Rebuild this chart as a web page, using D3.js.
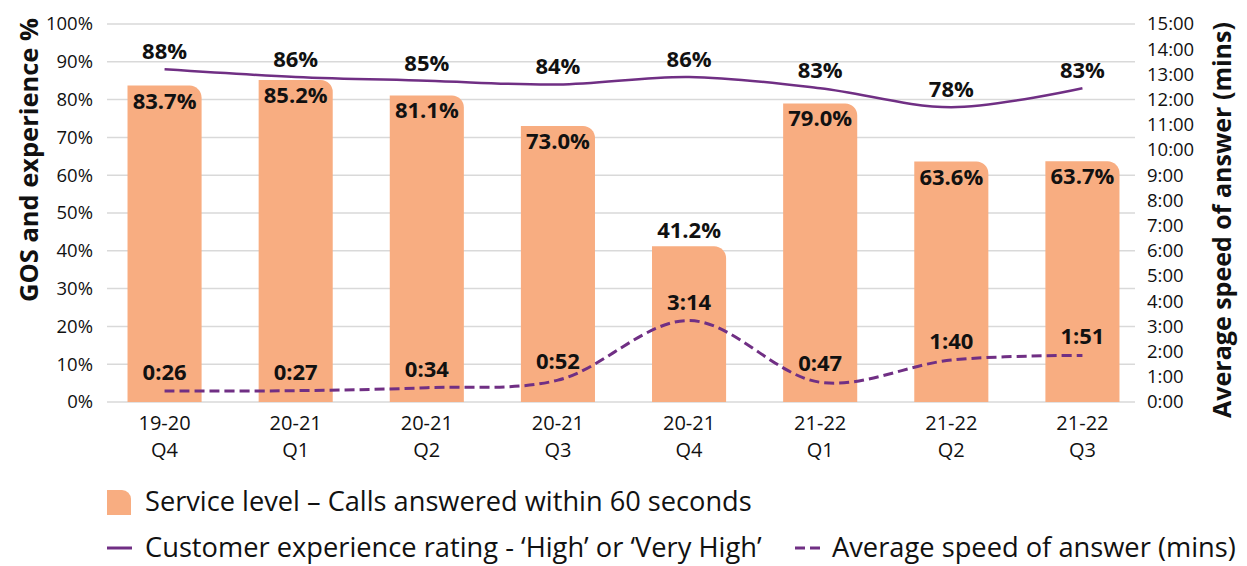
<!DOCTYPE html>
<html>
<head>
<meta charset="utf-8">
<script src="https://cdn.jsdelivr.net/npm/d3@7"></script>
<style>
  html, body { margin: 0; padding: 0; background: #ffffff; }
  svg { display: block; font-family: "Open Sans", Lato, sans-serif; }
</style>
</head>
<body>
<svg id="chart" width="1247" height="566"></svg>
<script>
const categories = ["19-20 Q4", "20-21 Q1", "20-21 Q2", "20-21 Q3", "20-21 Q4", "21-22 Q1", "21-22 Q2", "21-22 Q3"];
const serviceLevel = [83.7, 85.2, 81.1, 73.0, 41.2, 79.0, 63.6, 63.7];
const experience = [88, 86, 85, 84, 86, 83, 78, 83];
const speedOfAnswer = ["0:26", "0:27", "0:34", "0:52", "3:14", "0:47", "1:40", "1:51"];
const leftTicks = [0, 10, 20, 30, 40, 50, 60, 70, 80, 90, 100];
const rightTicks = [0, 1, 2, 3, 4, 5, 6, 7, 8, 9, 10, 11, 12, 13, 14, 15];
const legendLabels = [
  "Service level – Calls answered within 60 seconds",
  "Customer experience rating - ‘High’ or ‘Very High’",
  "Average speed of answer (mins)"
];

const BAR = "#F8AD81", PURPLE = "#702F84", GRID = "#D9D9D9", TEXT = "#111111";
const FONT = "'Open Sans', Lato, sans-serif";

const toMin = s => { const [m, sec] = s.split(":").map(Number); return m + sec / 60; };
const speedMin = speedOfAnswer.map(toMin);

function fit(sel, target) {
  const w = sel.node().getComputedTextLength();
  const fs = parseFloat(sel.attr("font-size"));
  if (w > 0) sel.attr("font-size", fs * target / w);
  return sel;
}

const svg = d3.select("#chart");
const x = d3.scaleBand().domain(categories).range([99, 1148]).paddingInner(0.435).paddingOuter(0.2175);
const yL = d3.scaleLinear().domain([0, 100]).range([402, 24]);
const yR = d3.scaleLinear().domain([0, 15]).range([402, 24]);
const cx = c => x(c) + x.bandwidth() / 2;

// gridlines
svg.append("g").selectAll("line").data(leftTicks).join("line")
  .attr("x1", 107).attr("x2", 1135)
  .attr("y1", d => yL(d)).attr("y2", d => yL(d))
  .attr("stroke", GRID).attr("stroke-width", 1.5);

// left axis
const axL = svg.append("g").attr("transform", "translate(107,0)")
  .call(d3.axisLeft(yL).tickValues(leftTicks).tickFormat(d => d + "%").tickSize(0).tickPadding(14));
axL.select(".domain").remove();
axL.selectAll("text").attr("font-size", 18.5).attr("fill", TEXT).attr("font-family", FONT);

// right axis
const axR = svg.append("g").attr("transform", "translate(1135,0)")
  .call(d3.axisRight(yR).tickValues(rightTicks).tickFormat(d => d + ":00").tickSize(0).tickPadding(12));
axR.select(".domain").remove();
axR.selectAll("text").attr("font-size", 18.5).attr("fill", TEXT).attr("font-family", FONT);

// axis titles
fit(svg.append("text").attr("transform", "translate(29,160) rotate(-90)").attr("dy", "0.35em")
  .attr("text-anchor", "middle").attr("font-size", 22).attr("font-weight", 700).attr("fill", TEXT)
  .text("GOS and experience %"), 284);
fit(svg.append("text").attr("transform", "translate(1222,220) rotate(-90)").attr("dy", "0.35em")
  .attr("text-anchor", "middle").attr("font-size", 22).attr("font-weight", 700).attr("fill", TEXT)
  .text("Average speed of answer (mins)"), 396);

// bars with rounded top-right corner
function barPath(x0, y0, w, h, r) {
  r = Math.min(r, h, w);
  return `M${x0},${y0 + h}V${y0}H${x0 + w - r}A${r},${r} 0 0 1 ${x0 + w},${y0 + r}V${y0 + h}Z`;
}
svg.append("g").selectAll("path").data(categories).join("path")
  .attr("d", (c, i) => barPath(x(c), yL(serviceLevel[i]), x.bandwidth(), yL(0) - yL(serviceLevel[i]), 12))
  .attr("fill", BAR);

// x labels (two separate lines)
svg.append("g").selectAll("text").data(categories).join("text")
  .attr("x", d => cx(d)).attr("y", 430)
  .attr("text-anchor", "middle").attr("font-size", 20).attr("fill", TEXT)
  .text(d => d.split(" ")[0]);
svg.append("g").selectAll("text").data(categories).join("text")
  .attr("x", d => cx(d)).attr("y", 457)
  .attr("text-anchor", "middle").attr("font-size", 20).attr("fill", TEXT)
  .text(d => d.split(" ")[1]);

// experience line
const smooth = d3.curveCatmullRom.alpha(0.5);
svg.append("path")
  .attr("d", d3.line().x((d, i) => cx(categories[i])).y(d => yL(d)).curve(smooth)(experience))
  .attr("fill", "none").attr("stroke", PURPLE).attr("stroke-width", 2.5);

// speed line
svg.append("path")
  .attr("d", d3.line().x((d, i) => cx(categories[i])).y(d => yR(d)).curve(smooth)(speedMin))
  .attr("fill", "none").attr("stroke", PURPLE).attr("stroke-width", 3).attr("stroke-dasharray", "10,5");

// bar labels
svg.append("g").selectAll("text").data(serviceLevel).join("text")
  .attr("x", (d, i) => cx(categories[i]))
  .attr("y", d => d < 50 ? yL(d) - 8 : yL(d) + 23)
  .attr("text-anchor", "middle").attr("font-size", 22).attr("font-weight", 700).attr("fill", TEXT)
  .text(d => d.toFixed(1) + "%");

// experience labels
svg.append("g").selectAll("text").data(experience).join("text")
  .attr("x", (d, i) => cx(categories[i]))
  .attr("y", d => yL(d) - 10)
  .attr("text-anchor", "middle").attr("font-size", 22).attr("font-weight", 700).attr("fill", TEXT)
  .text(d => d + "%");

// speed labels
svg.append("g").selectAll("text").data(speedOfAnswer).join("text")
  .attr("x", (d, i) => cx(categories[i]))
  .attr("y", (d, i) => yR(speedMin[i]) - 11)
  .attr("text-anchor", "middle").attr("font-size", 22).attr("font-weight", 700).attr("fill", TEXT)
  .text(d => d);

// legend
const lg = svg.append("g");
lg.append("path").attr("d", barPath(107, 490, 24, 25, 9)).attr("fill", BAR);
fit(lg.append("text").attr("x", 145).attr("y", 511).attr("font-size", 24).attr("fill", TEXT).text(legendLabels[0]), 607);
lg.append("line").attr("x1", 107).attr("x2", 132).attr("y1", 548).attr("y2", 548)
  .attr("stroke", PURPLE).attr("stroke-width", 3);
fit(lg.append("text").attr("x", 145).attr("y", 557).attr("font-size", 24).attr("fill", TEXT).text(legendLabels[1]), 617);
lg.append("line").attr("x1", 795).attr("x2", 822).attr("y1", 548).attr("y2", 548)
  .attr("stroke", PURPLE).attr("stroke-width", 3).attr("stroke-dasharray", "10,5");
fit(lg.append("text").attr("x", 832).attr("y", 557).attr("font-size", 24).attr("fill", TEXT).text(legendLabels[2]), 404);
</script>
</body>
</html>
